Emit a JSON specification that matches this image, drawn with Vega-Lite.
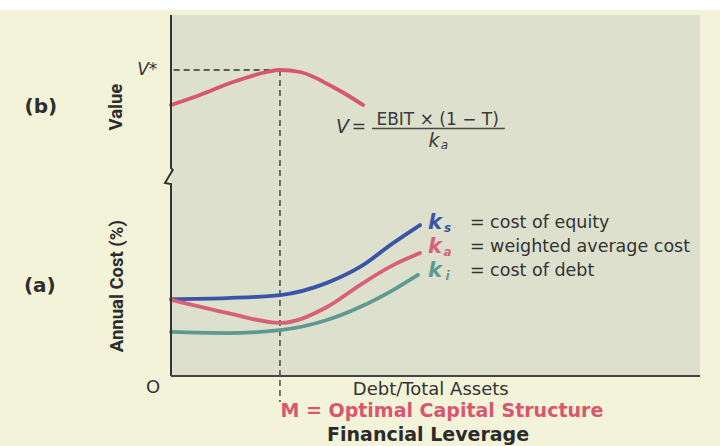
{
  "$schema": "https://vega.github.io/schema/vega-lite/v6.json",
  "width": 529,
  "height": 361,
  "autosize": {"type": "none"},
  "padding": {"left": 171, "top": 15, "right": 20, "bottom": 70},
  "background": "#f2f3d8",
  "config": {"view": {"stroke": null, "fill": "#dde0cd"}, "text": {"font": "DejaVu Sans"}},
  "datasets": {
    "strip": [{"x": -32.4, "x2": 104, "y": 101.4, "y2": 105}],
    "guides": [
      {"x": 0.5, "x2": 20.6, "y": 84.76, "y2": 84.76},
      {"x": 20.6, "x2": 20.6, "y": 84.76, "y2": -7.2}
    ],
    "curves": [
      {"series": "V", "x": 0, "y": 75.07},
      {"series": "V", "x": 5.48, "y": 77.84},
      {"series": "V", "x": 11.72, "y": 81.44},
      {"series": "V", "x": 18.15, "y": 84.21},
      {"series": "V", "x": 20.6, "y": 84.76},
      {"series": "V", "x": 24.39, "y": 84.21},
      {"series": "V", "x": 30.62, "y": 80.06},
      {"series": "V", "x": 33.46, "y": 77.7},
      {"series": "V", "x": 36.3, "y": 75.07},
      {"series": "ks", "x": 0, "y": 21.3},
      {"series": "ks", "x": 10.59, "y": 21.6},
      {"series": "ks", "x": 20.6, "y": 22.4},
      {"series": "ks", "x": 29.49, "y": 25.8},
      {"series": "ks", "x": 35.73, "y": 30.2},
      {"series": "ks", "x": 41.97, "y": 36.8},
      {"series": "ks", "x": 47.07, "y": 41.8},
      {"series": "ka", "x": 0, "y": 21.1},
      {"series": "ka", "x": 10.59, "y": 17.5},
      {"series": "ka", "x": 20.6, "y": 14.7},
      {"series": "ka", "x": 29.49, "y": 19.1},
      {"series": "ka", "x": 35.73, "y": 25.2},
      {"series": "ka", "x": 41.97, "y": 30.7},
      {"series": "ka", "x": 47.07, "y": 34.1},
      {"series": "ki", "x": 0, "y": 12.2},
      {"series": "ki", "x": 10.59, "y": 11.9},
      {"series": "ki", "x": 20.6, "y": 12.7},
      {"series": "ki", "x": 29.49, "y": 15.5},
      {"series": "ki", "x": 35.73, "y": 19.1},
      {"series": "ki", "x": 41.97, "y": 23.8},
      {"series": "ki", "x": 46.69, "y": 28.0}
    ],
    "yaxis": [
      {"i": 0, "x": 0, "y": 100},
      {"i": 1, "x": 0, "y": 57.62},
      {"i": 2, "x": 0.32, "y": 57.06},
      {"i": 3, "x": -1.13, "y": 53.46},
      {"i": 4, "x": 0, "y": 53.19},
      {"i": 5, "x": 0, "y": 0}
    ],
    "xaxis": [{"x": 0, "x2": 100, "y": 0}],
    "fraction": [{"x": 38.0, "x2": 63.1, "y": 68.56}],
    "panelLabels": [
      {"text": "(b)", "x": -24.6, "y": 74.5},
      {"text": "(a)", "x": -24.8, "y": 24.9}
    ],
    "axisTitles": [
      {"text": "Value", "x": -10.4, "y": 74.5},
      {"text": "Annual Cost (%)", "x": -10.2, "y": 24.9}
    ],
    "vstar": [{"text": "V*", "x": -4.5, "y": 84.8}],
    "plainLabels": [
      {"text": "O", "x": -3.4, "y": -3.3},
      {"text": "Debt/Total Assets", "x": 49.1, "y": -3.9}
    ],
    "optimal": [{"text": "M = Optimal Capital Structure", "x": 51.2, "y": -9.7}],
    "leverage": [{"text": "Financial Leverage", "x": 48.6, "y": -16.3}],
    "formulaItalic": [
      {"text": "V", "x": 32.4, "y": 69.0},
      {"text": "k", "x": 49.7, "y": 65.1}
    ],
    "formulaSub": [{"text": "a", "x": 51.7, "y": 63.9}],
    "formulaPlain": [
      {"text": "=", "x": 35.5, "y": 69.0},
      {"text": "EBIT × (1 − T)", "x": 50.4, "y": 70.9}
    ],
    "legendK": [
      {"series": "ks", "text": "k", "x": 49.9, "y": 42.38},
      {"series": "ka", "text": "k", "x": 49.9, "y": 35.73},
      {"series": "ki", "text": "k", "x": 49.9, "y": 29.09}
    ],
    "legendSub": [
      {"series": "ks", "text": "s", "x": 52.3, "y": 40.9},
      {"series": "ka", "text": "a", "x": 52.3, "y": 34.25},
      {"series": "ki", "text": "i", "x": 52.3, "y": 27.61}
    ],
    "legendText": [
      {"text": "= cost of equity", "x": 56.5, "y": 42.38},
      {"text": "= weighted average cost", "x": 56.5, "y": 35.73},
      {"text": "= cost of debt", "x": 56.5, "y": 29.09}
    ]
  },
  "encoding": {
    "x": {"field": "x", "type": "quantitative", "scale": {"domain": [0, 100], "nice": false, "zero": false}, "axis": null},
    "y": {"field": "y", "type": "quantitative", "scale": {"domain": [0, 100], "nice": false, "zero": false}, "axis": null}
  },
  "layer": [
    {
      "data": {"name": "strip"},
      "mark": {"type": "rect", "color": "#ffffff"},
      "encoding": {"x2": {"field": "x2"}, "y2": {"field": "y2"}}
    },
    {
      "data": {"name": "guides"},
      "mark": {"type": "rule", "color": "#2e2e2e", "strokeWidth": 1.3, "strokeDash": [6, 4]},
      "encoding": {"x2": {"field": "x2"}, "y2": {"field": "y2"}}
    },
    {
      "data": {"name": "curves"},
      "mark": {"type": "line", "interpolate": "monotone", "strokeWidth": 3.8, "strokeCap": "round"},
      "encoding": {
        "detail": {"field": "series"},
        "color": {"field": "series", "type": "nominal", "legend": null,
          "scale": {"domain": ["V", "ks", "ka", "ki"], "range": ["#d9566f", "#3a55a8", "#d9607a", "#5f9a92"]}}
      }
    },
    {
      "data": {"name": "yaxis"},
      "mark": {"type": "line", "color": "#333333", "strokeWidth": 2},
      "encoding": {"order": {"field": "i", "type": "quantitative"}}
    },
    {
      "data": {"name": "xaxis"},
      "mark": {"type": "rule", "color": "#444444", "strokeWidth": 2},
      "encoding": {"x2": {"field": "x2"}}
    },
    {
      "data": {"name": "fraction"},
      "mark": {"type": "rule", "color": "#4a4a4a", "strokeWidth": 1.5},
      "encoding": {"x2": {"field": "x2"}}
    },
    {
      "data": {"name": "panelLabels"},
      "mark": {"type": "text", "fontSize": 20, "fontWeight": "bold", "color": "#2d2d2d", "baseline": "middle"},
      "encoding": {"text": {"field": "text"}}
    },
    {
      "data": {"name": "axisTitles"},
      "mark": {"type": "text", "fontSize": 18.5, "fontWeight": "bold", "font": "Liberation Sans Narrow, Roboto, sans-serif", "color": "#2d2d2d", "angle": 270, "baseline": "middle"},
      "encoding": {"text": {"field": "text"}}
    },
    {
      "data": {"name": "vstar"},
      "mark": {"type": "text", "fontSize": 17, "fontStyle": "italic", "color": "#333333", "baseline": "middle"},
      "encoding": {"text": {"field": "text"}}
    },
    {
      "data": {"name": "plainLabels"},
      "mark": {"type": "text", "fontSize": 18, "color": "#333333", "baseline": "middle"},
      "encoding": {"text": {"field": "text"}}
    },
    {
      "data": {"name": "optimal"},
      "mark": {"type": "text", "fontSize": 19, "fontWeight": "bold", "color": "#d9566f", "baseline": "middle"},
      "encoding": {"text": {"field": "text"}}
    },
    {
      "data": {"name": "leverage"},
      "mark": {"type": "text", "fontSize": 19, "fontWeight": "bold", "color": "#2b2b2b", "baseline": "middle"},
      "encoding": {"text": {"field": "text"}}
    },
    {
      "data": {"name": "formulaItalic"},
      "mark": {"type": "text", "fontSize": 19, "fontStyle": "italic", "color": "#3a3a3a", "baseline": "middle"},
      "encoding": {"text": {"field": "text"}}
    },
    {
      "data": {"name": "formulaSub"},
      "mark": {"type": "text", "fontSize": 12, "fontStyle": "italic", "color": "#3a3a3a", "baseline": "middle"},
      "encoding": {"text": {"field": "text"}}
    },
    {
      "data": {"name": "formulaPlain"},
      "mark": {"type": "text", "fontSize": 17, "color": "#3a3a3a", "baseline": "middle"},
      "encoding": {"text": {"field": "text"}}
    },
    {
      "data": {"name": "legendK"},
      "mark": {"type": "text", "fontSize": 21, "fontWeight": "bold", "fontStyle": "italic", "baseline": "middle"},
      "encoding": {
        "text": {"field": "text"},
        "color": {"field": "series", "type": "nominal", "legend": null}
      }
    },
    {
      "data": {"name": "legendSub"},
      "mark": {"type": "text", "fontSize": 12, "fontWeight": "bold", "fontStyle": "italic", "baseline": "middle"},
      "encoding": {
        "text": {"field": "text"},
        "color": {"field": "series", "type": "nominal", "legend": null}
      }
    },
    {
      "data": {"name": "legendText"},
      "mark": {"type": "text", "fontSize": 17.5, "color": "#333333", "align": "left", "baseline": "middle"},
      "encoding": {"text": {"field": "text"}}
    }
  ]
}
